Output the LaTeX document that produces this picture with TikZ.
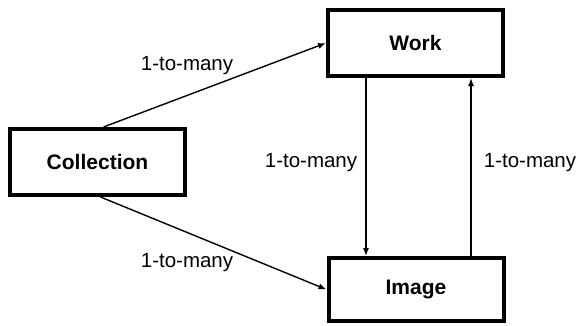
\documentclass[tikz,border=0pt]{standalone}
\usepackage{fontspec}
\setmainfont{Liberation Sans}
\usetikzlibrary{arrows.meta}
\begin{document}
\begin{tikzpicture}[x=1pt,y=-1pt,
  entity/.style={draw=black, line width=4pt, minimum width=175pt, minimum height=66pt, inner sep=0pt, font=\fontsize{21}{24}\selectfont\bfseries, fill=white},
  rel/.style={line width=1.4pt, -{Latex[length=8pt,width=6pt]}},
  lbl/.style={font=\fontsize{20.5}{24}\selectfont, inner sep=0pt}]
\useasboundingbox (0,0) rectangle (578,325);
\node[entity] (col) at (97.5,162) {Collection};
\node[entity] (work) at (415.5,43) {Work};
\node[entity, minimum height=63pt] (img) at (416,289.5) {Image};
\draw[rel] ([xshift=6pt]col.north) -- (work.west);
\draw[rel] ([xshift=3pt]col.south) -- (img.west);
\draw[rel] ([xshift=-49.5pt]work.south) -- ([xshift=-50pt]img.north);
\draw[rel] ([xshift=55pt]img.north) -- ([xshift=55.5pt]work.south);
\node[lbl] (l1) at (187,66) {1-to-many};
\node[lbl] (l2) at (187,263) {1-to-many};
\node[lbl] (l3) at (311,163) {1-to-many};
\node[lbl] (l4) at (530,163) {1-to-many};
\end{tikzpicture}
\end{document}
